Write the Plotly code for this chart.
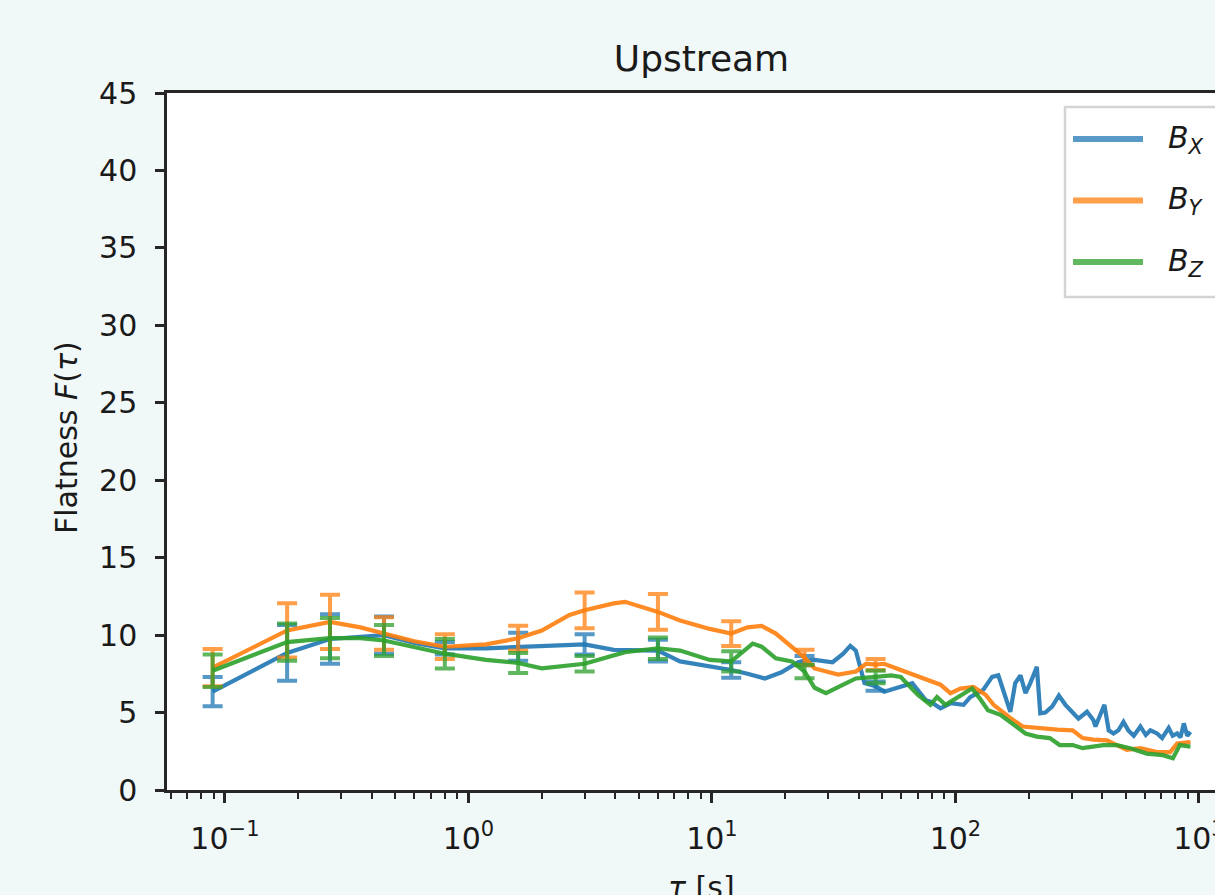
import plotly.graph_objects as go

# ---------------- data ----------------
tau_bx = [0.089, 0.18, 0.27, 0.36, 0.45, 0.6, 0.8, 1.18, 1.6, 2.0, 3.0, 3.95, 6.0, 7.4, 9.8,
          12, 14, 16.5, 19.3, 22.6, 24, 26.4, 31.3, 34.6, 37, 39, 42.3, 47, 51, 58, 66.5,
          75.5, 78.9, 86.8, 95.4, 108, 115, 130, 141.5, 150, 160, 168, 176, 185, 194, 203,
          216, 223, 234, 250, 266, 283, 301, 320, 347, 369, 376, 394, 409, 426, 446, 467,
          490, 513, 540, 575, 605, 632, 673, 706, 751, 780, 814, 840, 867, 895, 923]
f_bx = [6.35, 8.85, 9.75, 9.9, 10.0, 9.5, 9.15, 9.15, 9.25, 9.3, 9.4, 9.05, 9.0, 8.3, 8.0,
        7.75, 7.5, 7.2, 7.6, 8.25, 8.35, 8.4, 8.25, 8.8, 9.3, 9.0, 6.9, 6.7, 6.35, 6.65, 6.9,
        5.8, 5.7, 5.27, 5.6, 5.5, 6.0, 6.46, 7.3, 7.4, 6.0, 5.05, 6.9, 7.4, 6.25, 6.9,
        7.95, 4.95, 5.0, 5.4, 6.1, 5.5, 5.05, 4.6, 5.05, 4.5, 4.1, 4.95, 5.5, 3.85, 3.65, 3.85,
        4.4, 3.85, 3.5, 4.1, 3.55, 3.85, 3.65, 3.35, 4.0, 3.5, 3.65, 3.4, 4.3, 3.5, 3.75]

tau_by = [0.089, 0.18, 0.27, 0.36, 0.45, 0.6, 0.8, 1.18, 1.6, 2.0, 2.6, 3.0, 3.95, 4.4, 6.0,
          7.4, 9.8, 12, 14, 16, 18.3, 21.3, 24, 26.4, 33, 39, 43, 47, 51, 59.6, 70, 78.9,
          86.8, 95.4, 104.8, 118.6, 133, 143.5, 155.5, 168, 189, 216, 262, 303, 333, 369,
          419, 460, 506, 575, 673, 762, 814, 923]
f_by = [7.9, 10.3, 10.85, 10.5, 10.1, 9.6, 9.25, 9.4, 9.8, 10.3, 11.3, 11.6, 12.05, 12.15, 11.5,
        10.95, 10.4, 10.1, 10.5, 10.6, 10.1, 9.25, 8.55, 7.85, 7.45, 7.65, 8.15, 8.1, 8.15, 7.75, 7.35, 7.1,
        6.8, 6.25, 6.55, 6.65, 6.15, 5.5, 5.05, 4.65, 4.1, 4.0, 3.9, 3.85, 3.35, 3.25,
        3.2, 2.9, 2.6, 2.7, 2.45, 2.45, 3.0, 3.1]

tau_bz = [0.089, 0.18, 0.27, 0.36, 0.45, 0.6, 0.8, 1.18, 1.6, 2.0, 3.0, 4.4, 6.0, 7.4, 9.8,
          12, 14.7, 16, 18.3, 21.3, 24, 26.4, 29.4, 34.6, 39, 47, 54.5, 59.6, 70, 78.9, 84,
          91, 98, 108, 117, 126, 136, 153, 171, 194, 216, 244, 268, 303, 333, 369, 405, 460,
          522, 610, 711, 782, 835, 923]
f_bz = [7.7, 9.55, 9.8, 9.8, 9.65, 9.2, 8.8, 8.4, 8.2, 7.85, 8.15, 8.9, 9.15, 9.0, 8.4,
        8.3, 9.45, 9.25, 8.5, 8.3, 7.65, 6.6, 6.25, 6.8, 7.2, 7.3, 7.4, 7.3, 6.15, 5.5, 6.0,
        5.5, 5.8, 6.2, 6.55, 5.9, 5.15, 4.85, 4.3, 3.65, 3.45, 3.35, 2.9, 2.9, 2.7, 2.8, 2.9, 2.9,
        2.7, 2.35, 2.25, 2.05, 2.9, 2.8]

# lags at which error bars are drawn, and their half-lengths
err_tau = [0.089, 0.18, 0.27, 0.45, 0.8, 1.6, 3.0, 6.0, 12, 24, 47]
err_bx = [0.95, 1.8, 1.6, 1.2, 0.4, 0.9, 0.65, 0.7, 0.5, 0.3, 0.3]
err_by = [1.2, 1.75, 1.75, 1.05, 0.8, 0.8, 1.15, 1.15, 0.8, 0.5, 0.35]
err_bz = [1.05, 1.2, 1.3, 1.0, 0.95, 0.65, 0.5, 0.7, 0.65, 0.43, 0.4]

names = ["<i>B</i><sub><i>X</i></sub>", "<i>B</i><sub><i>Y</i></sub>", "<i>B</i><sub><i>Z</i></sub>"]
colors = ["#1f77b4", "#ff7f0e", "#2ca02c"]
legend_colors = ["rgba(31,119,180,0.75)", "rgba(255,127,14,0.75)", "rgba(44,160,44,0.75)"]

x_ticks = [0.1, 1, 10, 100, 1000]
x_ticktext = ["10<sup>−1</sup>", "10<sup>0</sup>", "10<sup>1</sup>", "10<sup>2</sup>", "10<sup>3</sup>"]
x_minor = [0.06, 0.07, 0.08, 0.09,
           0.2, 0.3, 0.4, 0.5, 0.6, 0.7, 0.8, 0.9,
           2, 3, 4, 5, 6, 7, 8, 9,
           20, 30, 40, 50, 60, 70, 80, 90,
           200, 300, 400, 500, 600, 700, 800, 900]
y_ticks = [0, 5, 10, 15, 20, 25, 30, 35, 40, 45]

# ---------------- figure ----------------
FONT = "DejaVu Sans"
INK = "#1a1a1a"
AX = "#262626"
W, H = 1215, 895
L, T, B = 167, 93, 105
PW, PH = W - L, H - T - B

def px(xp):  # pixel -> paper x
    return (xp - L) / PW

def py(yp):  # pixel -> paper y
    return (H - B - yp) / PH

fig = go.Figure()
series = [(tau_bx, f_bx, err_bx), (tau_by, f_by, err_by), (tau_bz, f_bz, err_bz)]
for (tau, f, err), name, col in zip(series, names, colors):
    fig.add_trace(go.Scatter(x=tau, y=f, mode="lines", name=name, opacity=0.9,
                             line=dict(color=col, width=4.2), showlegend=False))
    lookup = dict(zip(tau, f))
    fig.add_trace(go.Scatter(x=err_tau, y=[lookup[t] for t in err_tau], mode="markers",
                             marker=dict(size=1, opacity=0), opacity=0.75, showlegend=False,
                             hoverinfo="skip",
                             error_y=dict(type="data", array=err, color=col,
                                          thickness=4, width=10)))

# legend (drawn as in the reference: long sample lines)
shapes = [dict(type="rect", xref="paper", yref="paper", x0=px(1065), x1=px(1240),
               y0=py(297), y1=py(107), fillcolor="rgba(255,255,255,0.8)",
               line=dict(color="#d4d4d4", width=2.5), layer="above")]
annotations = []
for i, (name, lc) in enumerate(zip(names, legend_colors)):
    yy = py(139 + 61.5 * i)
    shapes.append(dict(type="line", xref="paper", yref="paper", x0=px(1073), x1=px(1143),
                       y0=yy, y1=yy, line=dict(color=lc, width=6), layer="above"))
    annotations.append(dict(text=name, xref="paper", yref="paper", x=px(1166), y=yy,
                            xanchor="left", yanchor="middle", showarrow=False,
                            font=dict(family=FONT, size=30, color=INK)))

annotations.append(dict(text="Flatness <i>F</i>(<i>τ</i>)", xref="paper", yref="paper",
                        x=px(66), y=py(438), textangle=-90, xanchor="center", yanchor="middle",
                        showarrow=False, font=dict(family=FONT, size=30, color=INK)))
annotations.append(dict(text="<i>τ</i> [s]", xref="paper", yref="paper",
                        x=px(701), y=py(868), xanchor="center", yanchor="top",
                        showarrow=False, font=dict(family=FONT, size=30, color=INK)))

fig.update_layout(
    width=W, height=H,
    margin=dict(l=L, r=0, t=T, b=B, pad=0, autoexpand=False),
    paper_bgcolor="#f1f8f8", plot_bgcolor="#ffffff",
    font=dict(family=FONT, size=30, color=INK),
    title=dict(text="Upstream", x=0.51, xref="paper", xanchor="center",
               y=1 - 58 / H, yref="container", yanchor="middle",
               font=dict(family=FONT, size=36, color=INK)),
    showlegend=False,
    shapes=shapes, annotations=annotations,
    xaxis=dict(type="log", range=[-1.238, 3.066], showgrid=False, zeroline=False,
               automargin=False,
               showline=True, linecolor=AX, linewidth=2.5, mirror=True,
               ticks="outside", ticklen=10, tickwidth=2.5, tickcolor=AX,
               tickmode="array", tickvals=x_ticks, ticktext=x_ticktext,
               ticklabelstandoff=10, ticklabeloverflow="allow",
               tickfont=dict(family=FONT, size=30, color=INK),
               minor=dict(tickmode="array", tickvals=x_minor, ticks="outside", ticklen=6,
                          tickwidth=2, tickcolor=AX, showgrid=False)),
    yaxis=dict(range=[0, 45], showgrid=False, zeroline=False, automargin=False,
               showline=True, linecolor=AX, linewidth=2.5, mirror=False,
               ticks="outside", ticklen=9, tickwidth=2.5, tickcolor=AX,
               tickmode="array", tickvals=y_ticks, ticklabelstandoff=12,
               tickfont=dict(family=FONT, size=30, color=INK)),
)

fig.write_html("out.html")
